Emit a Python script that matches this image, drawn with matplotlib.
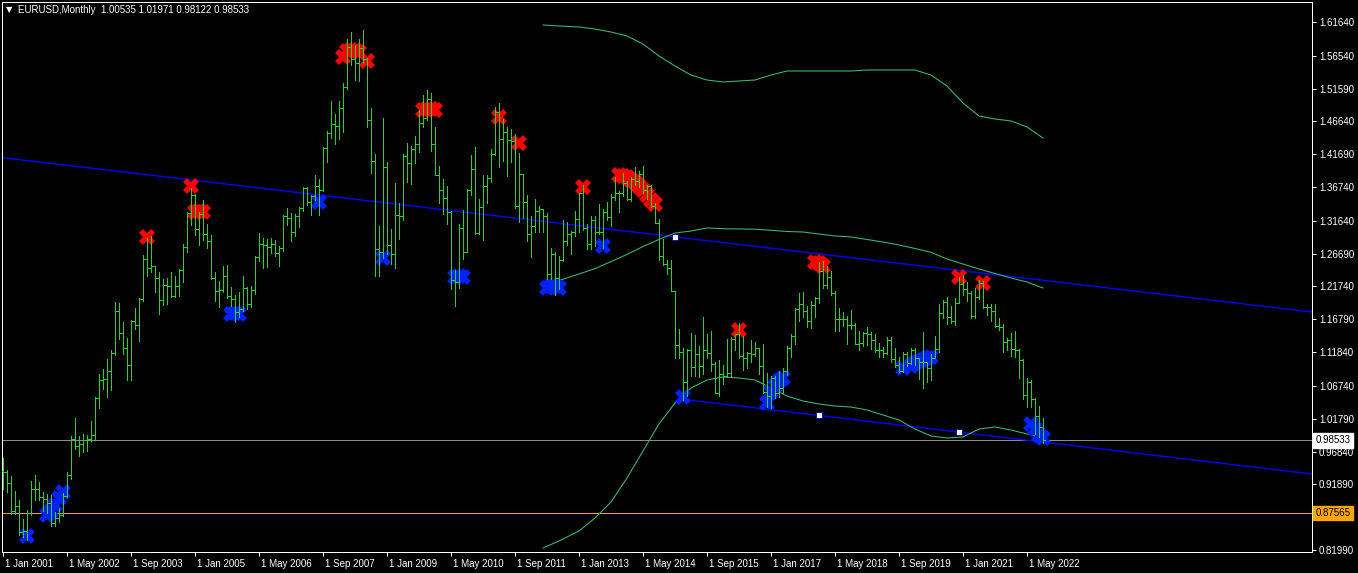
import matplotlib
matplotlib.use("Agg")
import matplotlib.pyplot as plt
import matplotlib.transforms as mtransforms

plt.rcParams['font.family'] = ['Liberation Sans', 'DejaVu Sans']

# Monthly EURUSD bars, Jan 2001 .. Sep 2022 (bar index 0 = Jan 2001), one year per row.
opens = [
    0.9390, 0.9372, 0.9207, 0.8781, 0.8868, 0.8471, 0.8492, 0.8759, 0.9115, 0.9113, 0.9003, 0.8968,
    0.8906, 0.8602, 0.8686, 0.8721, 0.9007, 0.9335, 0.9866, 0.9762, 0.9797, 0.9865, 0.9873, 0.9937,
    1.0487, 1.0762, 1.0780, 1.0904, 1.1172, 1.1805, 1.1475, 1.1250, 1.0990, 1.1650, 1.1590, 1.1990,
    1.2595, 1.2460, 1.2480, 1.2295, 1.1970, 1.2200, 1.2175, 1.2025, 1.2180, 1.2420, 1.2770, 1.3285,
    1.3560, 1.3035, 1.3265, 1.2960, 1.2865, 1.2300, 1.2100, 1.2125, 1.2330, 1.2025, 1.1990, 1.1790,
    1.1840, 1.2150, 1.1915, 1.2115, 1.2625, 1.2815, 1.2800, 1.2770, 1.2810, 1.2675, 1.2760, 1.3235,
    1.3200, 1.2995, 1.3230, 1.3355, 1.3655, 1.3450, 1.3540, 1.3690, 1.3630, 1.4270, 1.4490, 1.4630,
    1.4590, 1.4860, 1.5185, 1.5790, 1.5600, 1.5550, 1.5765, 1.5610, 1.4680, 1.4070, 1.2740, 1.2690,
    1.3970, 1.2800, 1.2670, 1.3250, 1.3230, 1.4150, 1.4030, 1.4250, 1.4330, 1.4640, 1.4720, 1.5000,
    1.4330, 1.3860, 1.3630, 1.3510, 1.3300, 1.2270, 1.2240, 1.3050, 1.2690, 1.3630, 1.3940, 1.2980,
    1.3380, 1.3690, 1.3810, 1.4180, 1.4810, 1.4400, 1.4500, 1.4390, 1.4370, 1.3390, 1.3870, 1.3450,
    1.2960, 1.3080, 1.3320, 1.3340, 1.3240, 1.2370, 1.2670, 1.2300, 1.2580, 1.2860, 1.2960, 1.2990,
    1.3190, 1.3580, 1.3060, 1.2820, 1.3170, 1.2990, 1.3000, 1.3300, 1.3220, 1.3520, 1.3580, 1.3590,
    1.3740, 1.3490, 1.3800, 1.3770, 1.3870, 1.3630, 1.3690, 1.3390, 1.3130, 1.2630, 1.2520, 1.2450,
    1.2100, 1.1290, 1.1190, 1.0730, 1.1220, 1.0960, 1.1150, 1.0980, 1.1210, 1.1170, 1.1000, 1.0570,
    1.0860, 1.0830, 1.0870, 1.1380, 1.1450, 1.1130, 1.1100, 1.1170, 1.1160, 1.1240, 1.0980, 1.0590,
    1.0520, 1.0800, 1.0570, 1.0650, 1.0900, 1.1240, 1.1420, 1.1840, 1.1910, 1.1810, 1.1650, 1.1900,
    1.2000, 1.2410, 1.2190, 1.2320, 1.2080, 1.1690, 1.1680, 1.1690, 1.1600, 1.1600, 1.1310, 1.1320,
    1.1470, 1.1450, 1.1370, 1.1220, 1.1210, 1.1170, 1.1370, 1.1080, 1.0990, 1.0900, 1.1150, 1.1020,
    1.1210, 1.1090, 1.1030, 1.1030, 1.0950, 1.1100, 1.1230, 1.1780, 1.1940, 1.1720, 1.1650, 1.1930,
    1.2210, 1.2130, 1.2070, 1.1730, 1.2020, 1.2230, 1.1860, 1.1870, 1.1810, 1.1580, 1.1560, 1.1340,
    1.1370, 1.1230, 1.1220, 1.1070, 1.0540, 1.0730, 1.0480, 1.0220, 1.00535,
]
highs = [
    0.9593, 0.9400, 0.9315, 0.9095, 0.8950, 0.8670, 0.8800, 0.9234, 0.9337, 0.9225, 0.9075, 0.9050,
    0.9030, 0.8775, 0.8836, 0.9060, 0.9373, 0.9917, 1.0190, 0.9918, 0.9950, 0.9935, 1.0140, 1.0500,
    1.0858, 1.0935, 1.1080, 1.1220, 1.1934, 1.1930, 1.1640, 1.1400, 1.1675, 1.1845, 1.2000, 1.2650,
    1.2900, 1.2930, 1.2485, 1.2390, 1.2280, 1.2300, 1.2400, 1.2330, 1.2440, 1.2810, 1.3300, 1.3667,
    1.3570, 1.3300, 1.3480, 1.3120, 1.2950, 1.2390, 1.2260, 1.2480, 1.2500, 1.2160, 1.2050, 1.2090,
    1.2330, 1.2170, 1.2180, 1.2640, 1.2980, 1.2900, 1.2890, 1.2910, 1.2870, 1.2780, 1.3260, 1.3365,
    1.3280, 1.3270, 1.3375, 1.3680, 1.3680, 1.3550, 1.3850, 1.3790, 1.4280, 1.4520, 1.4965, 1.4780,
    1.4970, 1.5240, 1.5910, 1.6020, 1.5820, 1.5910, 1.6040, 1.5620, 1.4860, 1.4180, 1.3080, 1.4720,
    1.4050, 1.3040, 1.3740, 1.3440, 1.4180, 1.4340, 1.4300, 1.4450, 1.4840, 1.5060, 1.5140, 1.5100,
    1.4580, 1.3990, 1.3800, 1.3690, 1.3310, 1.2430, 1.3110, 1.3330, 1.3650, 1.4160, 1.4280, 1.3500,
    1.3860, 1.3860, 1.4250, 1.4880, 1.4940, 1.4700, 1.4580, 1.4550, 1.4480, 1.4190, 1.3870, 1.3550,
    1.3230, 1.3490, 1.3390, 1.3345, 1.3280, 1.2750, 1.2690, 1.2640, 1.3170, 1.3140, 1.3010, 1.3310,
    1.3590, 1.3710, 1.3120, 1.3240, 1.3240, 1.3420, 1.3350, 1.3450, 1.3570, 1.3830, 1.3620, 1.3890,
    1.3770, 1.3820, 1.3970, 1.3910, 1.3990, 1.3700, 1.3700, 1.3440, 1.3190, 1.2890, 1.2580, 1.2570,
    1.2105, 1.1530, 1.1240, 1.1230, 1.1470, 1.1440, 1.1280, 1.1710, 1.1460, 1.1500, 1.1030, 1.1060,
    1.0990, 1.1380, 1.1410, 1.1460, 1.1620, 1.1430, 1.1190, 1.1370, 1.1330, 1.1250, 1.1300, 1.0870,
    1.0830, 1.0830, 1.0900, 1.0950, 1.1270, 1.1450, 1.1850, 1.2070, 1.2090, 1.1880, 1.1960, 1.2020,
    1.2540, 1.2560, 1.2480, 1.2410, 1.2100, 1.1850, 1.1790, 1.1730, 1.1820, 1.1620, 1.1500, 1.1490,
    1.1570, 1.1490, 1.1450, 1.1320, 1.1260, 1.1410, 1.1410, 1.1250, 1.1110, 1.1180, 1.1180, 1.1240,
    1.1240, 1.1100, 1.1490, 1.1040, 1.1150, 1.1420, 1.1910, 1.1970, 1.2010, 1.1880, 1.2000, 1.2310,
    1.2350, 1.2240, 1.2110, 1.2150, 1.2270, 1.2250, 1.1910, 1.1910, 1.1910, 1.1700, 1.1610, 1.1390,
    1.1480, 1.1500, 1.1235, 1.1085, 1.0790, 1.0770, 1.0485, 1.0370, 1.01971,
]
lows = [
    0.9123, 0.9068, 0.8745, 0.8740, 0.8431, 0.8395, 0.8344, 0.8732, 0.8955, 0.8953, 0.8787, 0.8756,
    0.8563, 0.8563, 0.8615, 0.8706, 0.8997, 0.9275, 0.9723, 0.9618, 0.9680, 0.9688, 0.9850, 0.9865,
    1.0335, 1.0630, 1.0500, 1.0620, 1.1145, 1.1380, 1.1150, 1.0760, 1.0765, 1.1530, 1.1350, 1.1955,
    1.2325, 1.2390, 1.2085, 1.1760, 1.1900, 1.1910, 1.2020, 1.2020, 1.2030, 1.2240, 1.2700, 1.3100,
    1.2955, 1.2800, 1.2870, 1.2760, 1.2290, 1.1960, 1.1870, 1.2090, 1.2000, 1.1880, 1.1640, 1.1710,
    1.1800, 1.1830, 1.1860, 1.2060, 1.2560, 1.2460, 1.2470, 1.2680, 1.2630, 1.2480, 1.2710, 1.3100,
    1.2865, 1.2930, 1.3070, 1.3320, 1.3410, 1.3260, 1.3480, 1.3260, 1.3610, 1.4050, 1.4420, 1.4330,
    1.4400, 1.4500, 1.5160, 1.5520, 1.5285, 1.5280, 1.5540, 1.4580, 1.3880, 1.2330, 1.2330, 1.2600,
    1.2660, 1.2510, 1.2460, 1.2890, 1.3180, 1.3750, 1.3720, 1.4040, 1.4210, 1.4580, 1.4680, 1.4220,
    1.3860, 1.3440, 1.3270, 1.3110, 1.2140, 1.1880, 1.2150, 1.2590, 1.2690, 1.3560, 1.2960, 1.2970,
    1.2870, 1.3440, 1.3750, 1.4160, 1.3970, 1.4070, 1.3840, 1.4050, 1.3360, 1.3150, 1.3210, 1.2860,
    1.2620, 1.3000, 1.3000, 1.3000, 1.2290, 1.2290, 1.2040, 1.2130, 1.2560, 1.2800, 1.2660, 1.2930,
    1.3000, 1.3020, 1.2740, 1.2740, 1.2790, 1.2960, 1.2750, 1.3180, 1.3090, 1.3480, 1.3300, 1.3540,
    1.3480, 1.3470, 1.3700, 1.3670, 1.3590, 1.3500, 1.3370, 1.3130, 1.2570, 1.2500, 1.2360, 1.2100,
    1.1100, 1.1100, 1.0460, 1.0520, 1.0820, 1.0820, 1.0810, 1.0850, 1.1090, 1.0900, 1.0560, 1.0520,
    1.0710, 1.0810, 1.0820, 1.1210, 1.1100, 1.0910, 1.0950, 1.1040, 1.1120, 1.0850, 1.0570, 1.0350,
    1.0340, 1.0490, 1.0500, 1.0570, 1.0840, 1.1110, 1.1310, 1.1660, 1.1720, 1.1570, 1.1550, 1.1720,
    1.1920, 1.2150, 1.2150, 1.2050, 1.1510, 1.1510, 1.1580, 1.1300, 1.1530, 1.1300, 1.1210, 1.1270,
    1.1290, 1.1230, 1.1180, 1.1110, 1.1110, 1.1160, 1.1030, 1.0960, 1.0880, 1.0880, 1.0980, 1.1000,
    1.0990, 1.0780, 1.0640, 1.0730, 1.0770, 1.1100, 1.1190, 1.1700, 1.1610, 1.1620, 1.1600, 1.1920,
    1.2050, 1.1950, 1.1700, 1.1700, 1.1985, 1.1850, 1.1750, 1.1660, 1.1560, 1.1520, 1.1190, 1.1220,
    1.1120, 1.1110, 1.0800, 1.0470, 1.0350, 1.0360, 0.9950, 0.9900, 0.98122,
]
closes = [
    0.9372, 0.9207, 0.8781, 0.8868, 0.8471, 0.8492, 0.8759, 0.9115, 0.9113, 0.9003, 0.8968, 0.8906,
    0.8602, 0.8686, 0.8721, 0.9007, 0.9335, 0.9866, 0.9762, 0.9797, 0.9865, 0.9873, 0.9937, 1.0487,
    1.0762, 1.0780, 1.0904, 1.1172, 1.1805, 1.1475, 1.1250, 1.0990, 1.1650, 1.1590, 1.1990, 1.2595,
    1.2460, 1.2480, 1.2295, 1.1970, 1.2200, 1.2175, 1.2025, 1.2180, 1.2420, 1.2770, 1.3285, 1.3560,
    1.3035, 1.3265, 1.2960, 1.2865, 1.2300, 1.2100, 1.2125, 1.2330, 1.2025, 1.1990, 1.1790, 1.1840,
    1.2150, 1.1915, 1.2115, 1.2625, 1.2815, 1.2800, 1.2770, 1.2810, 1.2675, 1.2760, 1.3235, 1.3200,
    1.2995, 1.3230, 1.3355, 1.3655, 1.3450, 1.3540, 1.3690, 1.3630, 1.4270, 1.4490, 1.4630, 1.4590,
    1.4860, 1.5185, 1.5790, 1.5600, 1.5550, 1.5765, 1.5610, 1.4680, 1.4070, 1.2740, 1.2690, 1.3970,
    1.2800, 1.2670, 1.3250, 1.3230, 1.4150, 1.4030, 1.4250, 1.4330, 1.4640, 1.4720, 1.5000, 1.4330,
    1.3860, 1.3630, 1.3510, 1.3300, 1.2270, 1.2240, 1.3050, 1.2690, 1.3630, 1.3940, 1.2980, 1.3380,
    1.3690, 1.3810, 1.4180, 1.4810, 1.4400, 1.4500, 1.4390, 1.4370, 1.3390, 1.3870, 1.3450, 1.2960,
    1.3080, 1.3320, 1.3340, 1.3240, 1.2370, 1.2670, 1.2300, 1.2580, 1.2860, 1.2960, 1.2990, 1.3190,
    1.3580, 1.3060, 1.2820, 1.3170, 1.2990, 1.3000, 1.3300, 1.3220, 1.3520, 1.3580, 1.3590, 1.3740,
    1.3490, 1.3800, 1.3770, 1.3870, 1.3630, 1.3690, 1.3390, 1.3130, 1.2630, 1.2520, 1.2450, 1.2100,
    1.1290, 1.1190, 1.0730, 1.1220, 1.0960, 1.1150, 1.0980, 1.1210, 1.1170, 1.1000, 1.0570, 1.0860,
    1.0830, 1.0870, 1.1380, 1.1450, 1.1130, 1.1100, 1.1170, 1.1160, 1.1240, 1.0980, 1.0590, 1.0520,
    1.0800, 1.0570, 1.0650, 1.0900, 1.1240, 1.1420, 1.1840, 1.1910, 1.1810, 1.1650, 1.1900, 1.2000,
    1.2410, 1.2190, 1.2320, 1.2080, 1.1690, 1.1680, 1.1690, 1.1600, 1.1600, 1.1310, 1.1320, 1.1470,
    1.1450, 1.1370, 1.1220, 1.1210, 1.1170, 1.1370, 1.1080, 1.0990, 1.0900, 1.1150, 1.1020, 1.1210,
    1.1090, 1.1030, 1.1030, 1.0950, 1.1100, 1.1230, 1.1780, 1.1940, 1.1720, 1.1650, 1.1930, 1.2210,
    1.2130, 1.2070, 1.1730, 1.2020, 1.2230, 1.1860, 1.1870, 1.1810, 1.1580, 1.1560, 1.1340, 1.1370,
    1.1230, 1.1220, 1.1070, 1.0540, 1.0730, 1.0480, 1.0220, 1.0053, 0.98533,
]

# Signal arrows (bar index, price)
red_idx = [36, 47, 48, 49, 50, 85, 86, 87, 88, 89, 91, 105, 106, 107, 108, 124, 129, 145,
           154, 155, 156, 157, 158, 159, 160, 161, 162, 163, 184, 203, 204, 205, 239, 245]
red_price = [1.2921, 1.3690, 1.3298, 1.3313, 1.3298, 1.5636, 1.5727, 1.5742, 1.5742, 1.5712, 1.5576,
             1.4837, 1.4852, 1.4852, 1.4837, 1.4731, 1.4339, 1.3675,
             1.3856, 1.3841, 1.3826, 1.3781, 1.3751, 1.3690, 1.3630, 1.3554, 1.3479, 1.3419,
             1.1518, 1.2544, 1.2529, 1.2483, 1.2317, 1.2227]
blue_idx = [6, 11, 12, 13, 14, 15, 57, 58, 59, 79, 95, 113, 114, 115, 136, 137, 138, 139, 150, 170,
            191, 192, 193, 194, 195, 225, 227, 228, 229, 230, 231, 232, 257, 258, 259, 260]
blue_price = [0.8410, 0.8727, 0.8787, 0.8878, 0.8984, 0.9074, 1.1762, 1.1777, 1.1762, 1.3449, 1.2604,
              1.2317, 1.2332, 1.2317, 1.2151, 1.2181, 1.2181, 1.2151, 1.2785, 1.0507,
              1.0418, 1.0583, 1.0673, 1.0749, 1.0794, 1.0947, 1.0975, 1.1021, 1.1052, 1.1066, 1.1096,
              1.1111, 1.0100, 1.0024, 0.9934, 0.9889]

# Channel lines and their anchor squares
upper_line_idx = [0, 330]
upper_line_price = [1.4116, 1.1770]
lower_line_idx = [169, 330]
lower_line_price = [1.0479, 0.9326]
square_idx = [168, 204, 239]
square_price = [1.2915, 1.0232, 0.9975]

# Band indicator (upper, middle, lower)
band_idx = [135, 139, 144, 148, 152, 156, 160, 164, 168, 172, 176, 180, 184, 188, 192, 196,
            200, 204, 208, 212, 216, 220, 224, 228, 232, 236, 240, 244, 248, 252, 256, 260]
band_upper = [1.6119, 1.6104, 1.6089, 1.6058, 1.6013, 1.5953, 1.5832, 1.5651, 1.5500, 1.5364, 1.5289,
              1.5259, 1.5274, 1.5289, 1.5364, 1.5425, 1.5425, 1.5425, 1.5425, 1.5425, 1.5440, 1.5440,
              1.5440, 1.5440, 1.5364, 1.5199, 1.4942, 1.4746, 1.4701, 1.4671, 1.4580, 1.4414]
band_middle = [1.2167, 1.2264, 1.2363, 1.2444, 1.2550, 1.2658, 1.2777, 1.2883, 1.2981, 1.3011, 1.3057,
               1.3046, 1.3042, 1.3038, 1.3022, 1.3004, 1.2996, 1.2966, 1.2936, 1.2921, 1.2883, 1.2845,
               1.2800, 1.2747, 1.2690, 1.2589, 1.2513, 1.2438, 1.2370, 1.2302, 1.2242, 1.2151]
band_lower = [0.8229, 0.8335, 0.8486, 0.8682, 0.8923, 0.9285, 0.9693, 1.0100, 1.0417, 1.0643, 1.0764,
              1.0809, 1.0794, 1.0764, 1.0643, 1.0522, 1.0447, 1.0402, 1.0371, 1.0356, 1.0311, 1.0236,
              1.0160, 1.0024, 0.9919, 0.9889, 0.9904, 1.0024, 1.0055, 1.0009, 0.9949, 0.9904]

bid_price = 0.98533
level_price = 0.87565

y_ticks = [1.6164, 1.5654, 1.5159, 1.4664, 1.4169, 1.3674, 1.3164, 1.2669, 1.2174, 1.1679,
           1.1184, 1.0674, 1.0179, 0.9684, 0.9189, 0.8694, 0.8199]
x_ticks = [0, 16, 32, 48, 64, 80, 96, 112, 128, 144, 160, 176, 192, 208, 224, 240, 256]
x_labels = ['1 Jan 2001', '1 May 2002', '1 Sep 2003', '1 Jan 2005', '1 May 2006', '1 Sep 2007',
            '1 Jan 2009', '1 May 2010', '1 Sep 2011', '1 Jan 2013', '1 May 2014', '1 Sep 2015',
            '1 Jan 2017', '1 May 2018', '1 Sep 2019', '1 Jan 2021', '1 May 2022']

BAR = '#32cd32'
PX = 0.72  # one pixel in points at dpi 100

fig = plt.figure(figsize=(13.58, 5.73), dpi=100, facecolor='black')
ax = fig.add_axes([2 / 1358, 21 / 573, 1310 / 1358, 550 / 573], facecolor='black')
ax.set_xlim(-0.25, 327.25)
ax.set_ylim(0.81689, 1.64657)

idx = list(range(len(closes)))

# Horizontal price levels, drawn crisp like the terminal does
ax.axhline(bid_price, color='#8c8c8c', lw=PX, zorder=1, antialiased=False)
ax.axhline(level_price, color='#ffa500', lw=PX, zorder=1, antialiased=False)

# Channel
ax.plot(upper_line_idx, upper_line_price, color='#0000ff', lw=1.4 * PX, zorder=2)
ax.plot(lower_line_idx, lower_line_price, color='#0000ff', lw=1.4 * PX, zorder=2)

# Bands
for band in (band_upper, band_middle, band_lower):
    ax.plot(band_idx, band, color='#3cb371', lw=1.1 * PX, zorder=2)

# Arrows behind the bars
ax.plot(red_idx, red_price, 'X', ms=12, color='#ff0000', mew=0, ls='none', zorder=3)
ax.plot(blue_idx, blue_price, 'X', ms=12, color='#0022ff', mew=0, ls='none', zorder=3)

# OHLC bars
ax.vlines(idx, lows, highs, color=BAR, lw=PX, zorder=4, antialiased=False)
ax.hlines(opens, [i - 0.4 for i in idx], idx, color=BAR, lw=PX, zorder=4, antialiased=False)
ax.hlines(closes, idx, [i + 0.4 for i in idx], color=BAR, lw=PX, zorder=4, antialiased=False)

ax.plot(square_idx, square_price, 's', ms=4, mfc='white', mec='#0000aa', mew=0.6, ls='none', zorder=5)

# Axes styling in the terminal look
for side in ax.spines.values():
    side.set_color('white')
    side.set_linewidth(PX)
ax.yaxis.tick_right()
ax.set_yticks(y_ticks)
ax.set_yticklabels([f'{v:.5f}' for v in y_ticks])
ax.set_xticks(x_ticks)
ax.set_xticklabels(x_labels)
ax.tick_params(colors='white', labelsize=7, length=3, width=PX, pad=2)
offset = mtransforms.ScaledTranslation(2 / 100, 0, fig.dpi_scale_trans)
for lbl in ax.get_xticklabels():
    lbl.set_ha('left')
    lbl.set_transform(lbl.get_transform() + offset)

# Price tags on the right scale
ax.text(1.0025, bid_price, '0.98533', transform=ax.get_yaxis_transform(), fontsize=7,
        color='black', va='center', ha='left', zorder=10, clip_on=False,
        bbox=dict(facecolor='white', edgecolor='white', boxstyle='square,pad=0.25'))
ax.text(1.0025, level_price, '0.87565', transform=ax.get_yaxis_transform(), fontsize=7,
        color='black', va='center', ha='left', zorder=10, clip_on=False,
        bbox=dict(facecolor='#ffa500', edgecolor='#ffa500', boxstyle='square,pad=0.25'))

# Header
fig.text(6 / 1358, 1 - 10 / 573, '\u25bc', fontsize=6, color='white', va='center',
         family=['DejaVu Sans'])
fig.text(18 / 1358, 1 - 10 / 573, 'EURUSD,Monthly  1.00535 1.01971 0.98122 0.98533',
         fontsize=7, color='white', va='center')

fig.savefig('out.png', dpi=100, facecolor='black')
